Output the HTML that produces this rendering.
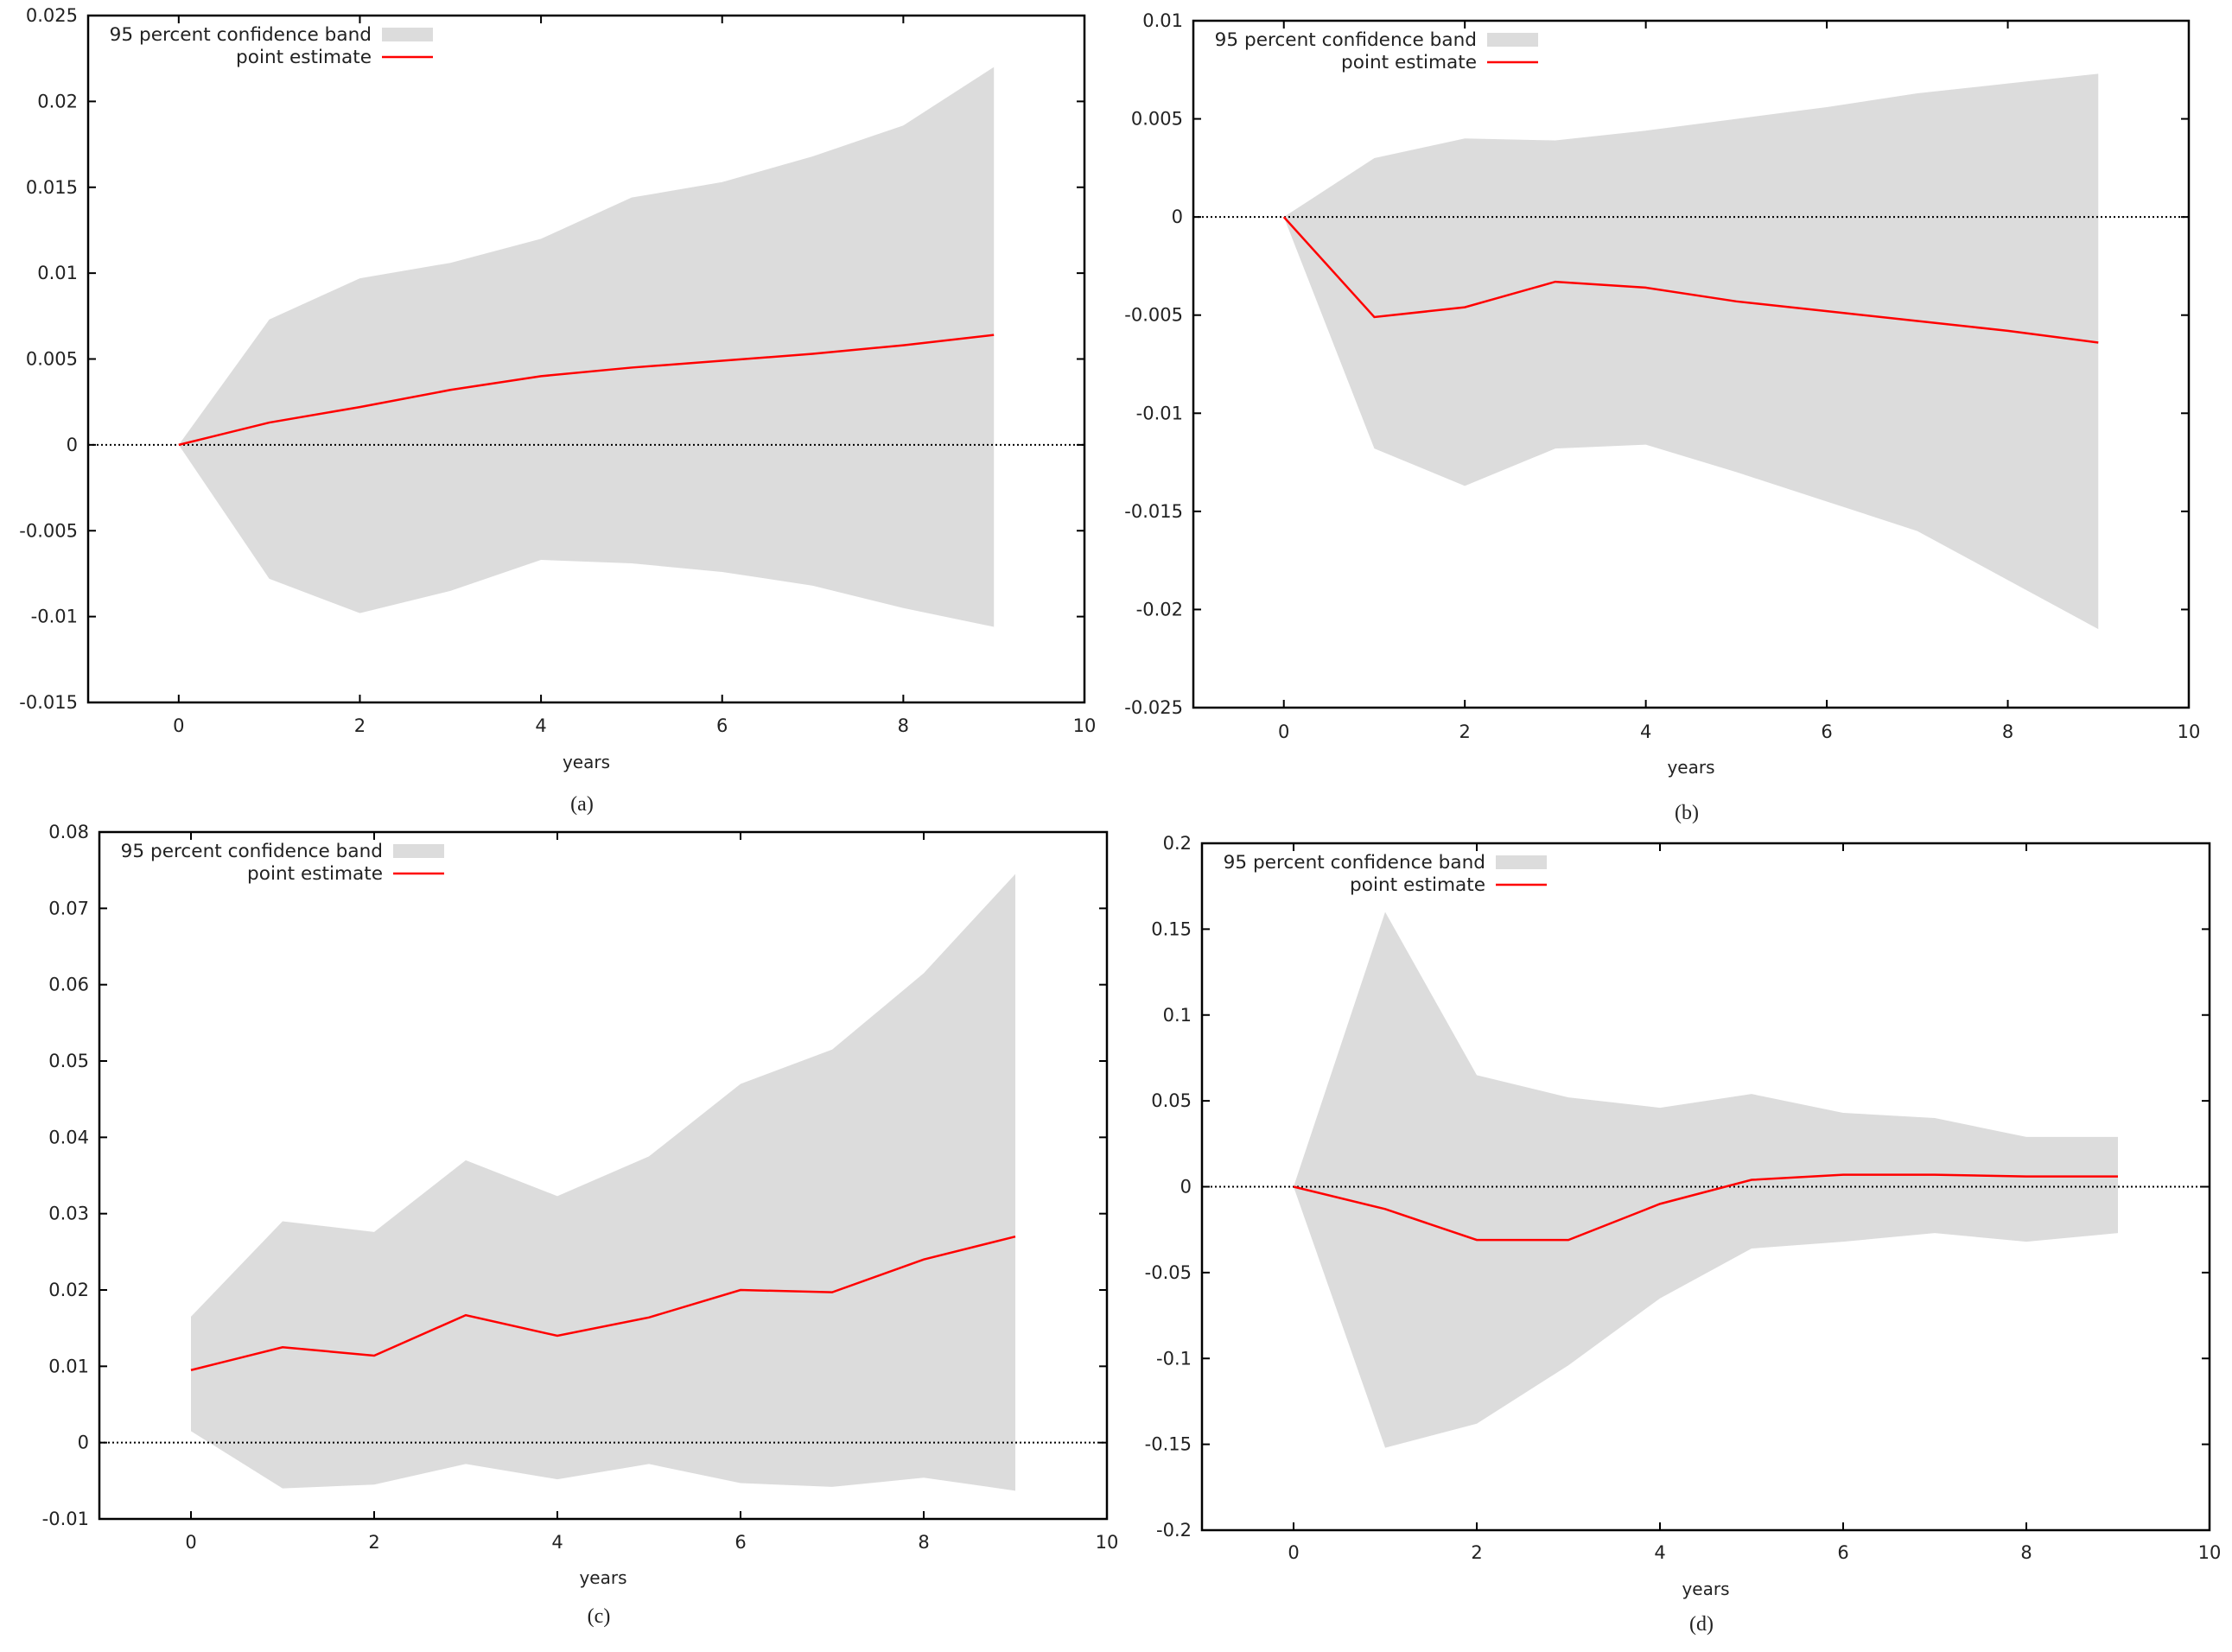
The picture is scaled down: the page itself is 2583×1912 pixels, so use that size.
<!DOCTYPE html>
<html><head><meta charset="utf-8"><style>
html,body{margin:0;padding:0;background:#fff;}
svg text{font-family:"DejaVu Sans","Liberation Sans",sans-serif;fill:#222;}
</style></head><body>
<svg id="root" width="2583" height="1907" viewBox="0 0 2583 1907" xmlns="http://www.w3.org/2000/svg"></svg>
<script>
const years = [0,1,2,3,4,5,6,7,8,9];
const aUpper = [0,0.0073,0.0097,0.0106,0.012,0.0144,0.0153,0.0168,0.0186,0.022];
const aLower = [0,-0.0078,-0.0098,-0.0085,-0.0067,-0.0069,-0.0074,-0.0082,-0.0095,-0.0106];
const aPoint = [0,0.0013,0.0022,0.0032,0.0040,0.0045,0.0049,0.0053,0.0058,0.0064];
const aTicks = ["-0.015","-0.01","-0.005","0","0.005","0.01","0.015","0.02","0.025"];
const bUpper = [0,0.003,0.004,0.0039,0.0044,0.005,0.0056,0.0063,0.0068,0.0073];
const bLower = [0,-0.0118,-0.0137,-0.0118,-0.0116,-0.013,-0.0145,-0.016,-0.0185,-0.021];
const bPoint = [0,-0.0051,-0.0046,-0.0033,-0.0036,-0.0043,-0.0048,-0.0053,-0.0058,-0.0064];
const bTicks = ["-0.025","-0.02","-0.015","-0.01","-0.005","0","0.005","0.01"];
const cUpper = [0.0165,0.029,0.0276,0.037,0.0323,0.0375,0.047,0.0515,0.0615,0.0745];
const cLower = [0.0015,-0.006,-0.0055,-0.0028,-0.0048,-0.0028,-0.0053,-0.0058,-0.0046,-0.0063];
const cPoint = [0.0095,0.0125,0.0114,0.0167,0.014,0.0164,0.02,0.0197,0.024,0.027];
const cTicks = ["-0.01","0","0.01","0.02","0.03","0.04","0.05","0.06","0.07","0.08"];
const dUpper = [0,0.16,0.065,0.052,0.046,0.054,0.043,0.04,0.029,0.029];
const dLower = [0,-0.152,-0.138,-0.104,-0.065,-0.036,-0.032,-0.027,-0.032,-0.027];
const dPoint = [0,-0.013,-0.031,-0.031,-0.01,0.004,0.007,0.007,0.006,0.006];
const dTicks = ["-0.2","-0.15","-0.1","-0.05","0","0.05","0.1","0.15","0.2"];
const xTicks = ["0","2","4","6","8","10"];

const NS="http://www.w3.org/2000/svg";
const root=document.getElementById('root');
function mk(tag,attrs,parent){const e=document.createElementNS(NS,tag);for(const k in attrs)e.setAttribute(k,attrs[k]);parent.appendChild(e);return e;}

function panel(id,L,R,T,B,ticks,upper,lower,point,cap,tickLabelY,yearsY,capY){
  const g=mk('g',{},root);
  
  
  const ymin=parseFloat(ticks[0]), ymax=parseFloat(ticks[ticks.length-1]);
  const sx=v=>L+(v+1)/11*(R-L);
  const sy=v=>B-(v-ymin)/(ymax-ymin)*(B-T);
  let pts=years.map((x,i)=>sx(x)+','+sy(upper[i]));
  for(let i=years.length-1;i>=0;i--)pts.push(sx(years[i])+','+sy(lower[i]));
  const band=mk('polygon',{points:pts.join(' '),fill:'#dcdcdc'},g);
  
  
  const z=mk('line',{x1:L,x2:R,y1:sy(0),y2:sy(0),stroke:'#000','stroke-width':2,'stroke-dasharray':'2,3'},g);
  
  
  const pl=mk('polyline',{points:years.map((x,i)=>sx(x)+','+sy(point[i])).join(' '),fill:'none',stroke:'#f00','stroke-width':2.5},g);
  
  
  const fr=mk('rect',{x:L,y:T,width:R-L,height:B-T,fill:'none',stroke:'#000','stroke-width':2.5},g);
  
  
  ticks.forEach(t=>{
    const y=sy(parseFloat(t));
    mk('line',{x1:L,x2:L+9,y1:y,y2:y,stroke:'#000','stroke-width':2},g);
    mk('line',{x1:R,x2:R-9,y1:y,y2:y,stroke:'#000','stroke-width':2},g);
    const tx=mk('text',{x:L-12,y:y+7,'text-anchor':'end','font-size':21},g);
    tx.textContent=t;
    
    
  });
  xTicks.forEach(t=>{
    const x=sx(parseFloat(t));
    mk('line',{x1:x,x2:x,y1:B,y2:B-9,stroke:'#000','stroke-width':2},g);
    mk('line',{x1:x,x2:x,y1:T,y2:T+9,stroke:'#000','stroke-width':2},g);
    const tx=mk('text',{x:x,y:tickLabelY+7,'text-anchor':'middle','font-size':21},g);
    tx.textContent=t;
    
    
  });
  const xt=mk('text',{x:(L+R)/2,y:yearsY+7,'text-anchor':'middle','font-size':20},g);
  xt.textContent='years';
  
  
  const ct=mk('text',{x:(L+R)/2-5,y:capY+8,'text-anchor':'middle','font-size':24,style:'font-family:"Liberation Serif",serif'},g);
  ct.textContent='('+cap+')';
  
  
  const lg=mk('g',{},g);
  
  
  const t1=mk('text',{x:L+328,y:T+29,'text-anchor':'end','font-size':21.6},lg);
  t1.textContent='95 percent confidence band';
  
  
  mk('rect',{x:L+340,y:T+14,width:59,height:16,fill:'#dcdcdc'},lg);
  const t2=mk('text',{x:L+328,y:T+55,'text-anchor':'end','font-size':21.6},lg);
  t2.textContent='point estimate';
  
  
  mk('line',{x1:L+340,x2:L+399,y1:T+48,y2:T+48,stroke:'#f00','stroke-width':2.5},lg);
}
panel('a',102,1255,18,813,aTicks,aUpper,aLower,aPoint,'a',840,882,930);
panel('b',1381,2533,24,819,bTicks,bUpper,bLower,bPoint,'b',847,888,940);
panel('c',115,1281,963,1758,cTicks,cUpper,cLower,cPoint,'c',1785,1826,1870);
panel('d',1391,2557,976,1771,dTicks,dUpper,dLower,dPoint,'d',1797,1839,1879);
</script>
</body></html>
